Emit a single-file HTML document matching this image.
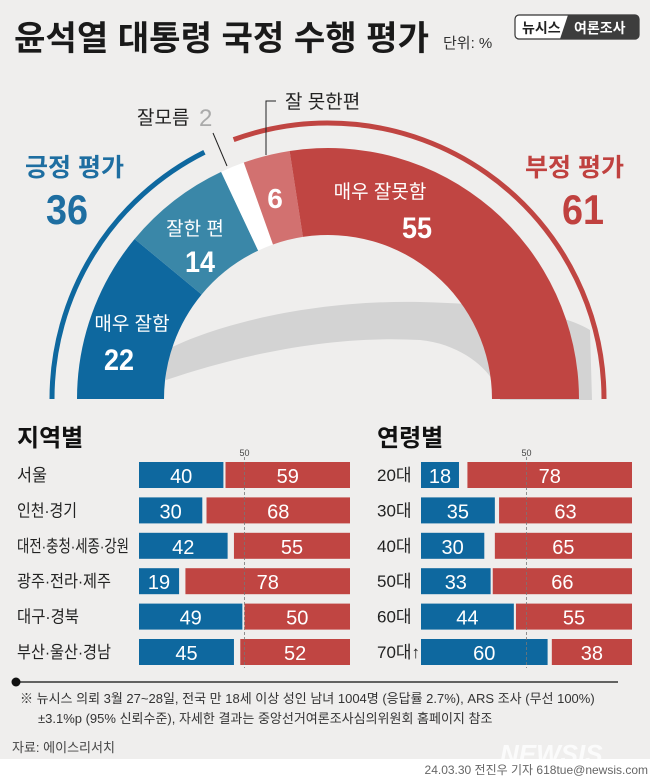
<!DOCTYPE html>
<html><head><meta charset="utf-8"><style>
body{margin:0;width:650px;height:782px;overflow:hidden;background:#efeeed;}
svg{display:block;font-family:"Liberation Sans","Noto Sans CJK KR",sans-serif;}
</style></head><body>
<svg id="s" width="650" height="782" viewBox="0 0 650 782" xmlns="http://www.w3.org/2000/svg">
<rect x="0" y="0" width="650" height="759" fill="#efeeed"/>
<rect x="0" y="759" width="650" height="23" fill="#ffffff"/>
<text x="14" y="50" font-size="34" font-weight="bold" fill="#1a1a1a" textLength="415" lengthAdjust="spacingAndGlyphs">윤석열 대통령 국정 수행 평가</text>
<text x="443" y="48" font-size="15" fill="#333">단위: %</text>
<rect x="515" y="15" width="124" height="24" rx="4" fill="#fff" stroke="#333" stroke-width="1.2"/>
<path d="M568 15 L635 15 Q639 15 639 19 L639 35 Q639 39 635 39 L560 39 Z" fill="#3d3d3d"/>
<text x="522" y="33" font-size="14" font-weight="bold" fill="#222">뉴시스</text>
<text x="574" y="33" font-size="14" font-weight="bold" fill="#fff">여론조사</text>
<g id="arcs"></g>
<text x="25" y="176" font-size="25" font-weight="bold" fill="#1e6ea1">긍정 평가</text>
<text x="46" y="224" font-size="42" font-weight="bold" fill="#1e6ea1" textLength="42" lengthAdjust="spacingAndGlyphs">36</text>
<text x="525" y="176" font-size="25" font-weight="bold" fill="#c0413f">부정 평가</text>
<text x="562" y="224" font-size="42" font-weight="bold" fill="#c0413f" textLength="42" lengthAdjust="spacingAndGlyphs">61</text>
<text x="137" y="124" font-size="19" fill="#222">잘모름</text>
<text x="199" y="126" font-size="24" fill="#aaa">2</text>
<line x1="213" y1="133" x2="227" y2="166" stroke="#222" stroke-width="1"/>
<text x="285" y="108" font-size="19" fill="#222">잘 못한편</text>
<polyline points="276,101 266,101 266,155" fill="none" stroke="#222" stroke-width="1"/>
<g fill="#fff" text-anchor="middle">
<text x="380" y="198" font-size="19">매우 잘못함</text>
<text x="417" y="238" font-size="30" font-weight="bold" textLength="30" lengthAdjust="spacingAndGlyphs">55</text>
<text x="275" y="208" font-size="28" font-weight="bold">6</text>
<text x="195" y="235" font-size="19">잘한 편</text>
<text x="200" y="272" font-size="30" font-weight="bold" textLength="30" lengthAdjust="spacingAndGlyphs">14</text>
<text x="132" y="330" font-size="19">매우 잘함</text>
<text x="119" y="370" font-size="30" font-weight="bold" textLength="30" lengthAdjust="spacingAndGlyphs">22</text>
</g>
<text x="17" y="446" font-size="24" font-weight="bold" fill="#111">지역별</text>
<text x="377" y="446" font-size="24" font-weight="bold" fill="#111">연령별</text>
<g id="bars"></g>
<line x1="16" y1="682" x2="618" y2="682" stroke="#333" stroke-width="1.5"/>
<circle cx="16" cy="682" r="4.5" fill="#111"/>
<text x="20" y="703" font-size="13" fill="#333">※ 뉴시스 의뢰 3월 27~28일, 전국 만 18세 이상 성인 남녀 1004명 (응답률 2.7%), ARS 조사 (무선 100%)</text>
<text x="38" y="723" font-size="13" fill="#333">±3.1%p (95% 신뢰수준), 자세한 결과는 중앙선거여론조사심의위원회 홈페이지 참조</text>
<text x="12" y="752" font-size="13" fill="#444">자료: 에이스리서치</text>
<text x="500" y="763" font-size="26" font-weight="bold" font-style="italic" fill="#fff" opacity="0.8">NEWSIS</text>
<text x="648" y="774" font-size="12" fill="#666" text-anchor="end">24.03.30 전진우 기자 618tue@newsis.com</text>
</svg>
<script>
var NS="http://www.w3.org/2000/svg";
function el(p,t,a,txt){var e=document.createElementNS(NS,t);for(var k in a)if(a[k]!==null)e.setAttribute(k,a[k]);if(txt!==undefined)e.textContent=txt;p.appendChild(e);return e;}
var cx=328,cy=399;
function pt(r,a){a=a*Math.PI/180;return [cx+r*Math.cos(a),cy-r*Math.sin(a)];}
function seg(r1,r2,a1,a2){var p1=pt(r2,a1),p2=pt(r2,a2),p3=pt(r1,a2),p4=pt(r1,a1);var lg=(a1-a2)>180?1:0;
return "M"+p1+" A"+r2+","+r2+" 0 "+lg+" 1 "+p2+" L"+p3+" A"+r1+","+r1+" 0 "+lg+" 0 "+p4+" Z";}
function arc(r,a1,a2){var p1=pt(r,a1),p2=pt(r,a2);return "M"+p1+" A"+r+","+r+" 0 0 1 "+p2;}
var g=document.getElementById("arcs");
el(g,"path",{d:"M166,350 C230,318 330,300 420,302 C500,304 560,312 590,330 L592,400 L500,400 C500,380 470,345 420,340 C330,335 240,355 166,380 Z",fill:"#d3d3d3"});
el(g,"path",{d:seg(164,251,180,140.4),fill:"#0e689f"});
el(g,"path",{d:seg(164,251,140.4,115.2),fill:"#3a87a8"});
el(g,"path",{d:seg(164,251,115.2,109.6),fill:"#ffffff"});
el(g,"path",{d:seg(164,251,109.6,98.8),fill:"#d27170"});
el(g,"path",{d:seg(164,251,98.8,0),fill:"#c04542"});
el(g,"path",{d:arc(276,180,116.6),fill:"none",stroke:"#0e689f","stroke-width":5});
el(g,"path",{d:arc(276,110,0),fill:"none",stroke:"#c04542","stroke-width":5});
var b=document.getElementById("bars");
var reg=[["서울",40,59,30],["인천·경기",30,68,60],["대전·충청·세종·강원",42,55,112],["광주·전라·제주",19,78,94],["대구·경북",49,50,62],["부산·울산·경남",45,52,94]];
var age=[["20대",18,78,null],["30대",35,63,null],["40대",30,65,null],["50대",33,66,null],["60대",44,55,null],["70대↑",60,38,null]];
function draw(data,lx,x0){
 var sc=211/100;
 for(var i=0;i<data.length;i++){var y=462+i*35.4,d=data[i];
  el(b,"text",{x:lx,y:y+19,"font-size":17,fill:"#222",textLength:d[3],lengthAdjust:d[3]?"spacingAndGlyphs":null},d[0]);
  var bw=d[1]*sc,rw=d[2]*sc;
  el(b,"rect",{x:x0,y:y,width:bw,height:26,fill:"#0e689f"});
  el(b,"rect",{x:x0+211-rw,y:y,width:rw,height:26,fill:"#c04542"});
  el(b,"text",{x:x0+bw/2,y:y+21,"font-size":20,fill:"#fff","text-anchor":"middle"},d[1]);
  el(b,"text",{x:x0+211-rw/2,y:y+21,"font-size":20,fill:"#fff","text-anchor":"middle"},d[2]);
 }
 var mx=x0+105.5;
 el(b,"line",{x1:mx,y1:457,x2:mx,y2:668,stroke:"#777","stroke-width":0.8,"stroke-dasharray":"3,2"});
 el(b,"text",{x:mx,y:456,"font-size":9,fill:"#444","text-anchor":"middle"},"50");
}
draw(reg,17,139);
draw(age,377,421);
</script>
</body></html>
